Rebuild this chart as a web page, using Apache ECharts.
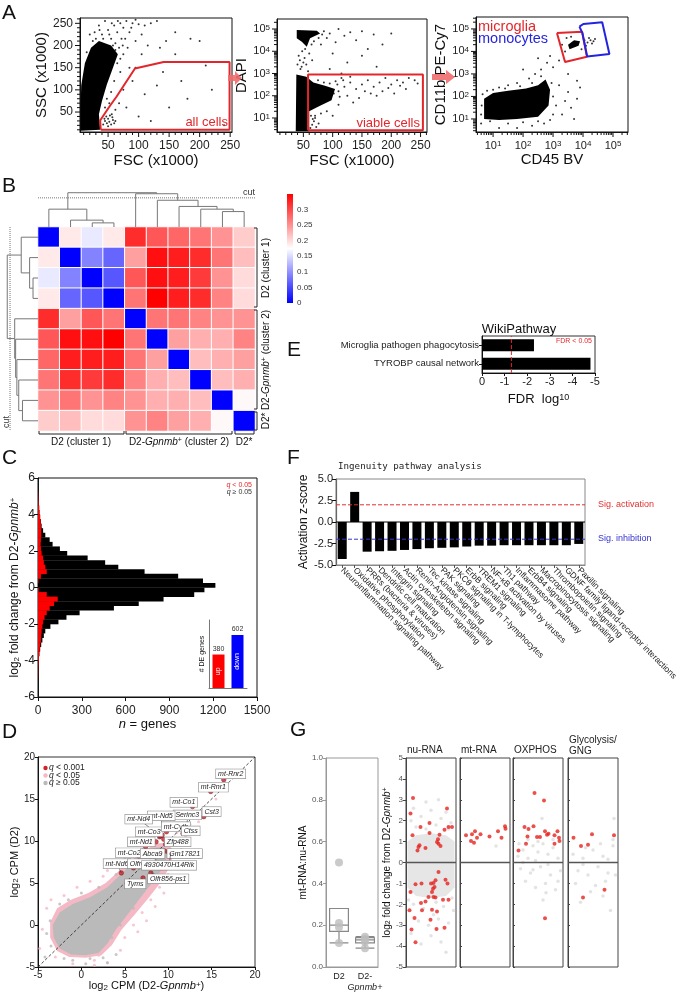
<!DOCTYPE html>
<html>
<head>
<meta charset="utf-8">
<script src="https://cdn.jsdelivr.net/npm/echarts@6.0.0/dist/echarts.min.js"></script>
<style>html,body{margin:0;padding:0;background:#fff}#fig{width:680px;height:993px}</style>
</head>
<body>
<div id="fig"></div>
<script>
// ---------- A : gating (x, y ; log panels use log10 units) ----------
var a1Dense = [[5,8],[37,10],[35,45],[40,75],[48,112],[58,150],[66,180],[55,200],[35,210],[22,195],[12,160],[6,110],[5,60]];
var a1Pts = [[30,215],[40,225],[50,235],[60,245],[70,250],[80,255],[45,255],[35,245],[55,215],[65,230],[75,240],[85,230],[90,250],[95,258],[62,205],[72,215],[28,230],[38,200],[48,190],[58,200],[68,195],[78,215],[100,248],[110,245],[120,250],[105,225],[130,255],[95,210],[82,195],[75,180],[65,160],[70,140],[60,120],[55,95],[48,80],[45,60],[52,70],
  [42,22],[45,30],[48,25],[50,35],[52,28],[55,22],[58,32],[60,25],[47,40],[53,42],[57,38],[44,35],[62,30],[50,18],[56,45],
  [90,120],[110,90],[80,60],[100,40],[140,140],[160,180],[170,120],[200,210],[210,155],[180,80],[120,30],[95,150],[130,110],[150,60],[220,100],[240,20],[75,100],[85,150],[105,180],[115,200],[135,195],[145,210],[185,215],[160,230],[68,70],[62,55],
  [20,225],[25,210],[15,185],[42,215],[52,225],[62,190],[70,170],[74,200],[88,240],[66,255],[56,250],[36,235]];
var a1Gate = [[38,10],[37,31],[52,62],[64,85],[94,148],[141,163],[249,163],[249,10],[38,10]];

var a2Dense = [[37,0.4],[60,0.4],[60,1.3],[75,1.5],[98,1.8],[104,2.3],[87,2.45],[67,2.6],[55,2.85],[38,2.95]];
var a2Top = [[38.7,4.96],[72.9,4.92],[78.5,4.8],[61.4,4.58],[55.8,4.2],[47.3,4.43],[38.7,4.58]];
var a2Pts = [[45,3.2],[50,3.5],[42,3.8],[55,3.4],[48,4.0],[52,3.7],[58,3.1],[44,3.6],[60,3.9],[47,3.3],[53,4.1],[65,3.6],[40,3.4],
  [85,4.9],[95,4.8],[110,5.0],[120,4.7],[130,4.85],[150,4.9],[170,4.75],[90,4.6],[105,4.4],[140,4.5],[200,4.8],[185,4.3],[160,4.1],[80,4.3],[100,3.9],[125,3.5],[150,3.8],[175,3.3],[95,3.2],[115,3.0],
  [110,2.2],[120,2.4],[130,2.6],[140,2.3],[150,2.5],[160,2.7],[170,2.4],[180,2.6],[190,2.8],[200,2.5],[210,2.7],[220,2.6],[230,2.8],[240,2.7],[125,2.0],[145,1.9],[165,2.1],[185,2.2],[205,2.1],[225,2.3],[110,1.6],[135,1.7],[90,1.3],[100,1.1],[115,2.8],[105,2.65],[130,2.85],[155,2.2],[175,2.0],[195,2.35],[215,2.45],[80,1.2],[85,2.6],[70,1.1],[75,2.7],[245,2.55],
  [62,0.55],[65,0.7],[68,0.85],[72,0.6],[70,1.0],[76,0.75],[63,1.1],[66,0.95],
  [108,2.5],[112,1.95],[118,2.7],[102,2.1],[95,2.55],[82,4.75],[76,4.6],[68,4.45],[64,4.3]];
var a2Gate = [[58,0.45],[58,2.95],[254,2.95],[254,0.45],[58,0.45]];

var a3Dense = [[0.7,1.0],[1.2,0.95],[1.8,1.0],[2.5,1.1],[2.85,1.6],[2.9,2.3],[2.75,2.75],[2.5,2.5],[2.1,2.35],[1.5,2.25],[1.0,2.15],[0.7,1.9]];
var a3Micro = [[3.55,4.1],[3.85,4.25],[3.9,4.45],[3.7,4.5],[3.5,4.3]];
var a3Pts = [[4.15,4.4],[4.25,4.5],[4.3,4.35],[4.2,4.6],[4.35,4.45],[4.1,4.25],[4.4,4.55],[4.05,4.5],
  [3.4,4.0],[3.45,4.6],[3.6,4.65],[3.95,4.1],[3.3,4.3],
  [3.0,2.0],[3.2,2.5],[3.1,1.6],[3.4,1.8],[3.6,1.5],[3.5,2.2],[3.8,1.9],[3.3,1.2],[3.7,1.0],[3.0,3.3],[2.8,3.5],[2.6,3.2],[2.4,3.0],[2.2,2.8],[2.0,3.2],[1.8,2.6],[1.5,2.5],[1.2,2.4],[2.5,3.7],[2.9,3.8],[3.2,3.6],[3.5,3.0],[3.8,2.7],[1.0,2.3],[0.9,0.9],[1.5,0.8],[2.0,0.85],[2.5,0.9],[1.2,0.6],[1.8,0.6],[2.3,0.7],[0.6,0.8],[3.9,2.4],[2.7,0.8],
  [0.65,2.1],[0.8,2.25],[1.4,2.35],[1.9,2.45],[2.3,2.6],[2.6,2.9],[2.95,2.6],[3.0,1.2],[2.9,0.95],[0.6,1.2],[0.62,1.6]];
var a3GateMicroglia = [[3.13,4.82],[3.97,4.87],[4.13,3.76],[3.4,3.53],[3.13,4.82]];
var a3GateMonocytes = [[3.88,5.1],[4.01,5.22],[4.64,5.3],[4.88,3.89],[4.14,3.77],[3.98,4.81],[3.88,5.1]];

// ---------- B : distance heatmap ----------
var heatMatrix = [
  [0,0.19,0.16,0.19,0.32,0.29,0.28,0.27,0.25,0.21],
  [0.19,0,0.09,0.07,0.24,0.34,0.33,0.32,0.27,0.22],
  [0.16,0.09,0,0.06,0.29,0.34,0.33,0.31,0.25,0.20],
  [0.19,0.07,0.06,0,0.27,0.35,0.33,0.32,0.26,0.20],
  [0.32,0.24,0.29,0.27,0,0.27,0.27,0.26,0.25,0.25],
  [0.29,0.34,0.34,0.35,0.27,0,0.24,0.23,0.23,0.26],
  [0.28,0.33,0.33,0.33,0.27,0.24,0,0.22,0.23,0.24],
  [0.27,0.32,0.31,0.32,0.26,0.23,0.22,0,0.22,0.23],
  [0.25,0.27,0.25,0.26,0.25,0.23,0.23,0.22,0,0.18],
  [0.21,0.22,0.20,0.20,0.25,0.26,0.24,0.23,0.18,0]];
var colorTicks = [0,0.05,0.1,0.15,0.2,0.25,0.3];
// merges: [child, child, height]; 'mK' = K-th merge
var dendroTop = [[2,3,0.12],[1,'m0',0.2],[0,'m1',0.52],[8,9,0.45],[7,'m3',0.52],[6,'m4',0.6],[5,'m5',0.78],[4,'m6',0.97],['m2','m7',1.0]];
var dendroLeft = [[2,3,0.16],[1,'m0',0.27],[0,'m1',0.54],[8,9,0.5],[7,'m3',0.62],[6,'m4',0.68],[5,'m5',0.72],[4,'m6',0.75],['m2','m7',0.99]];

// ---------- E : WikiPathway ----------
var wikiNames = ['Microglia pathogen phagocytosis','TYROBP causal network'];
var wikiFdr = [-2.3,-4.8];

// ---------- C : fold-change histogram ----------
var histBinLow = [-5.0,-4.75,-4.5,-4.25,-4.0,-3.75,-3.5,-3.25,-3.0,-2.75,-2.5,-2.25,-2.0,-1.75,-1.5,-1.25,-1.0,-0.75,-0.5,-0.25,0,0.25,0.5,0.75,1.0,1.25,1.5,1.75,2.0,2.25,2.5,2.75,3.0,3.25,3.5,3.75,4.0,4.25,4.5,4.75,5.0];
var histAll = [1,2,2,4,6,10,15,22,30,40,50,85,140,195,285,520,690,860,1070,1140,1215,1130,960,730,550,460,340,200,150,100,80,50,35,25,20,15,10,8,5,3,2];
var histSig = [1,2,2,4,6,8,12,15,20,22,25,30,35,45,60,80,110,135,60,5,0,3,20,60,50,40,35,25,20,18,20,22,22,20,18,14,10,8,5,3,2];
var deNames = ['up','down'];
var deCounts = [380,602];

// ---------- F : IPA ----------
var ipaNames = ['Neuroinflammation signaling pathway','Oxidative phosphorylation','PRRs (bacteria & viruses)','Dendritic cell maturation','Integrin signaling','Actin cytoskeleton signaling','Renin-Angiotensin signaling','Tec kinase signaling','PAK signaling','PKC\u03b8 signaling in T-lymphocytes','ErbB signaling','TREM1 signaling','NF-\u03baB activation by viruses','Th1 pathway','Inflammasome pathway','ErbB4 signaling','Macropinocytosis signaling','Thrombopoietin signaling','GDNF family ligand-receptor interactions','Paxillin signaling'];
var ipaZ = [-4.3,3.5,-3.45,-3.4,-3.35,-3.25,-3.15,-3.05,-3.0,-2.95,-2.85,-2.75,-2.75,-2.7,-2.7,-2.7,-2.7,-2.7,-2.7,-2.55];

// ---------- D : CPM scatter ----------
var dGrayCloud = [[-3.2,-1.5],[-2.5,-2.8],[-1.2,-3.5],[0.5,-3.6],[2,-3.3],[3,-2.2],[4,-0.5],[5.5,1.5],[7,3.5],[8.5,5.5],[9.5,7],[10,8.5],[9.5,9.3],[8.5,9.2],[7,8.3],[5,6.5],[3,4.5],[1,3.3],[-1,2.5],[-2.5,1.5],[-3.3,0]];
var dPinkCloud = [[-3.6,-1.5],[-2.8,-3.1],[-1.4,-3.8],[0.5,-3.9],[2.3,-3.6],[3.5,-2.4],[4.6,-0.6],[6.2,1.3],[7.8,3.3],[9.3,5.3],[10.3,7.2],[10.6,8.8],[9.9,9.8],[8.6,9.7],[7,8.7],[4.8,6.9],[2.8,5],[0.8,3.8],[-1.2,3],[-2.8,2],[-3.6,0.3]];
var dGrayPts = [[-4,-1],[-3.6,0.5],[-3.5,-2.5],[-2,-4],[-1,-4.2],[1,-4],[2.5,-3.9],[3,-4.5],[4,-3.5],[3.5,-1.5],[4.5,0],[6,2],[7,4],[8.5,6.5],[9.5,8],[-2.5,2.5],[-1.5,3],[0,3.8],[2,4.5],[4,6],[5.5,7],[7,8.8],[0.5,-4.6],[-4.2,-3.8]];
var dPinkPts = [[-4.5,-0.5],[-4,2],[-3.5,3],[-2,3.5],[-0.5,4.5],[1,5.2],[3,6.5],[5,8],[6.5,9],[8,10.2],[9,10.5],[4.5,-3],[5,-1.5],[6,0],[7,1.5],[8,3],[9,4.5],[10,6],[11,7.5],[11.5,9],[3,-4.5],[1.5,-4.8],[-1,-4.6],[2,-3.6],[10.5,5.5],[9.5,3.8],[8.5,2.2],[12,10.5],[11,11],[7.5,0.5],[6.5,-0.8],[10,8.5],[9,9.5],[4.2,7.5],[2.5,5.8],[-3,-3.8],[-4.8,-2.8],[1.5,-4.2],[12.5,12],[13.5,12.3],[11.5,11.8],[13,13.5],[14,13.5],[15.5,15],[16,16.5]];
var dRedPts = [[4.6,6.2],[6.6,8.2],[7.4,9.3],[7.8,7.4],[8.0,6.2],[7.1,5.6],[8.6,9.9],[9.0,10.5],[9.1,10.6],[9.3,10.7],[9.8,11.1],[9.7,9.6],[9.6,8.8],[10.0,8.7],[10.3,8.6],[11.7,10.9],[12.2,11.9],[12.8,14.1],[14.1,12.9],[14.9,15.9],[16.4,17.3],[8.5,7.5],[9.5,10.2],[6,6.8]];
var dLabelNames = ['mt-Rnr2','mt-Rnr1','mt-Co1','Cst3','Serinc3','mt-Nd5','mt-Nd4','mt-Co3','mt-Cytb','Ctss','mt-Nd1','Zfp488','mt-Co2','Abca9','Gm17821','mt-Nd6','Olfr613','4930470H14Rik','Olfr856-ps1','Tyms'];
var dLabelPoint = [[16.4,17.3],[14.9,15.9],[12.8,14.1],[14.1,12.9],[12.2,11.9],[9.3,10.7],[9.1,10.6],[9.0,10.5],[9.8,11.1],[11.7,10.9],[8.6,9.9],[9.7,9.6],[6.6,8.2],[9.6,8.8],[10.0,8.7],[4.6,6.2],[7.8,7.4],[10.3,8.6],[8.0,6.2],[7.1,5.6]];
var dLabelAt = [[17.2,18.0],[15.2,16.4],[11.8,14.6],[15.0,13.5],[12.2,13.1],[9.2,13.0],[6.6,12.6],[7.8,11.1],[10.9,11.7],[12.6,11.2],[6.9,9.9],[11.1,9.9],[5.5,8.6],[8.2,8.5],[11.9,8.5],[4.1,7.3],[6.9,7.3],[10.1,7.1],[10.0,5.5],[6.2,4.9]];

// ---------- G : mt-RNA ratio and facets ----------
var gGroups = ['D2','D2-Gpnmb+'];
var gBox = [[0.115,0.17,0.2,0.28,0.28],[0.09,0.115,0.13,0.14,0.145]];
var gRatioPts = [[0,0.5],[0,0.21],[0,0.19],[0,0.115],[1,0.145],[1,0.135],[1,0.12],[1,0.09]];
var facetNames = ['nu-RNA','mt-RNA','OXPHOS','Glycolysis/\nGNG'];
var nuCore = [[0.03,-1.2],[0.2,-1.6],[0.5,-1.7],[0.8,-1.6],[0.97,-1.2],[0.97,1.0],[0.8,1.3],[0.5,1.4],[0.2,1.3],[0.03,1.0]];
var nuGray = [[0.1,2.0],[0.3,2.2],[0.5,2.5],[0.7,2.1],[0.9,1.9],[0.2,1.7],[0.6,1.8],[0.4,1.6],[0.85,1.6],[0.15,-2.0],[0.35,-2.2],[0.55,-2.5],[0.75,-2.1],[0.95,-2.3],[0.25,-2.8],[0.45,-3.0],[0.65,-2.7],[0.85,-2.9],[0.1,-3.4],[0.5,-3.5],[0.7,-3.8],[0.8,-4.3],[0.3,-3.9],[0.6,-1.9],[0.05,-1.8],[0.92,-1.7],[0.4,2.9],[0.15,2.6],[0.8,2.4],[0.65,3.0]];
var nuRed = [[.09,2.34],[.14,3.09],[.13,1.30],[.29,1.70],[.47,1.89],[.47,1.41],[.39,.69],[.23,.58],[.27,.82],[.25,.74],[.82,2.58],[.77,1.57],[.85,1.70],[.92,1.70],[.67,1.33],[.64,1.11],[.62,.98],[.65,.9],[.69,.79],[.19,-1.04],[.31,-1.01],[.09,-1.41],[.5,-1.01],[.55,-.98],[.59,-.85],[.54,-1.25],[.57,-1.17],[.52,-1.41],[.65,-.45],[.79,-.82],[.83,-1.01],[.45,-1.65],[.55,-1.65],[.59,-1.68],[.74,-1.78],[.85,-1.78],[.3,-1.94],[.39,-1.87],[.07,-2.29],[.32,-2.29],[.52,-2.26],[.62,-2.34],[.17,-2.66],[.49,-2.74],[.11,-3.2],[.61,-3.18],[.77,-3.12],[.19,-3.82]];
var mtGray = [[0.72,0.79]];
var mtRed = [[.12,1.3],[.24,1.35],[.3,1.5],[.41,1.35],[.22,1.03],[.28,.95],[.34,1.19],[.59,1.25],[.76,1.49],[.83,1.19],[.9,1.73],[.91,1.62]];
var oxGray = [[0.1,0.3],[0.2,0.6],[0.3,0.2],[0.4,0.8],[0.5,0.5],[0.6,0.9],[0.7,0.4],[0.8,0.7],[0.9,0.2],[0.15,-0.3],[0.35,-0.5],[0.55,-0.2],[0.75,-0.6],[0.95,-0.4],[0.25,-0.9],[0.45,-1.2],[0.65,-1.0],[0.85,-1.3],[0.6,-1.8],[0.7,-0.1],[0.5,1.0],[0.3,1.1],[0.8,1.1],[0.45,0.1],[0.2,0.0],[0.9,-0.9],[0.66,-1.45],[0.4,-0.35],[0.12,0.9],[0.58,2.1]];
var oxRed = [[.11,.58],[.23,1.7],[.31,1.6],[.41,1.73],[.43,3.33],[.29,1.25],[.26,.9],[.48,1.22],[.54,1.22],[.62,2.97],[.64,1.49],[.68,1.33],[.71,1.38],[.83,1.3],[.83,.9],[.89,1.49],[.92,1.19],[.93,1.03],[.64,-2.67]];
var glyGray = [[0.1,0.4],[0.3,0.2],[0.5,0.6],[0.7,0.3],[0.9,0.8],[0.2,-0.4],[0.4,-0.6],[0.6,-0.2],[0.8,-0.5],[0.15,-1.0],[0.45,-1.4],[0.75,-0.9],[0.95,-0.6],[0.85,-2.3],[0.25,-1.9],[0.65,0.9],[0.55,-1.1],[0.35,0.7],[0.9,1.1],[0.7,-1.6],[0.92,2.1],[0.3,-0.1],[0.8,0.15]];
var glyRed = [[.11,1.19],[.26,.79],[.4,.85],[.48,1.35],[.92,1.3],[.3,-1.67],[.73,-1.3]];

// ================= build =================
var FONT = '"Liberation Sans", Arial, sans-serif';
var RED = '#e3262b', BLUE = '#2424e0';
var grids = [], xAxes = [], yAxes = [], series = [], graphics = [];
function push(arr, o) { arr.push(o); return arr.length - 1; }
function merge(a, b) {
  for (var k in b) {
    if (b[k] && typeof b[k] === 'object' && !Array.isArray(b[k]) && a[k] && typeof a[k] === 'object') merge(a[k], b[k]);
    else a[k] = b[k];
  }
  return a;
}
function rich(fs) {
  var s = Math.round(fs * 0.7);
  return {i: {fontStyle: 'italic', fontSize: fs, fontFamily: FONT},
    sup: {fontSize: s, verticalAlign: 'top', fontFamily: FONT},
    sub: {fontSize: s, verticalAlign: 'bottom', fontFamily: FONT}};
}
function axis(gi, o) {
  return merge({gridIndex: gi, type: 'value', splitLine: {show: false},
    axisLine: {show: true, onZero: false, lineStyle: {color: '#111', width: 1}},
    axisTick: {show: true, length: 4, lineStyle: {color: '#111'}},
    axisLabel: {color: '#222', fontSize: 11, fontFamily: FONT},
    nameTextStyle: {color: '#111', fontFamily: FONT}}, o);
}
function hidden(gi, min, max) { return {gridIndex: gi, type: 'value', min: min, max: max, show: false}; }
function linMinor(from, to, step, skip) {
  var v = [];
  for (var t = from; t <= to; t += step) if (t % skip !== 0) v.push(t);
  return v;
}
function logMinor(min, max) {
  var v = [];
  for (var n = -1; n < 7; n++) for (var k = 2; k <= 9; k++) {
    var t = n + Math.log10(k);
    if (t > min && t < max) v.push(t);
  }
  return v;
}
function pow10(v) { return '10{sup|' + Math.round(v) + '}'; }
// outward tick marks drawn at axis values (x axis: below base y, y axis: left of base x)
function ticks(xi, yi, vals, isX, base, len) {
  return {type: 'custom', xAxisIndex: xi, yAxisIndex: yi, silent: true, z: 10, clip: false,
    data: vals.map(function (v) { return [v]; }),
    renderItem: function (p, api) {
      var v = api.value(0), c = isX ? api.coord([v, base]) : api.coord([base, v]);
      return {type: 'line', shape: isX ? {x1: c[0], y1: c[1], x2: c[0], y2: c[1] + len} : {x1: c[0], y1: c[1], x2: c[0] - len, y2: c[1]},
        style: {stroke: '#111', lineWidth: 1}};
    }};
}
function poly(xi, yi, pts, fill, stroke, lw, z) {
  return {type: 'custom', xAxisIndex: xi, yAxisIndex: yi, data: [[0]], silent: true, z: z || 2,
    renderItem: function (p, api) {
      return {type: 'polygon', shape: {points: pts.map(function (q) { return api.coord(q); })},
        style: {fill: fill, stroke: stroke || null, lineWidth: lw || 0}};
    }};
}
function dots(xi, yi, pts, color, size, z) {
  return {type: 'scatter', xAxisIndex: xi, yAxisIndex: yi, data: pts, symbolSize: size,
    itemStyle: {color: color}, silent: true, z: z || 3};
}
function path(xi, yi, pts, color, width, type, z) {
  return {type: 'line', xAxisIndex: xi, yAxisIndex: yi, data: pts, symbol: 'none', silent: true, z: z || 4,
    lineStyle: {color: color, width: width, type: type || 'solid'}};
}
function txt(x, y, text, st, rot) {
  var s = merge({text: text, fontSize: 11, fontFamily: FONT, fill: '#111', align: 'left', verticalAlign: 'top'}, st || {});
  s.textAlign = s.align; s.textVerticalAlign = s.verticalAlign;
  graphics.push({type: 'text', x: x, y: y, rotation: rot || 0, silent: true, z: 100, style: s});
}
function pline(points, color, width) {
  graphics.push({type: 'polyline', silent: true, z: 100, shape: {points: points},
    style: {stroke: color || '#222', lineWidth: width || 1, fill: null}});
}
function gridBox(o, color) {
  return push(grids, merge({show: true, borderColor: color || '#111', borderWidth: 1, backgroundColor: 'transparent'}, o));
}
function gatePanel(box, xr, yr, xMaj, xMin, yMaj, yMin, xFmt, yFmt, xName, yName, yGap) {
  var gi = gridBox(box);
  var xl = {fontSize: 12, customValues: xMaj};
  if (xFmt) { xl.formatter = xFmt; xl.rich = rich(11); xl.fontSize = 11; }
  var yl = {fontSize: 12, customValues: yMaj, margin: 7};
  if (yFmt) { yl.formatter = yFmt; yl.rich = rich(11); yl.fontSize = 11; }
  var xi = push(xAxes, axis(gi, {min: xr[0], max: xr[1], position: 'bottom', axisTick: {show: false}, axisLabel: xl,
    name: xName, nameLocation: 'middle', nameGap: 17, nameTextStyle: {fontSize: 15}}));
  var yi = push(yAxes, axis(gi, {min: yr[0], max: yr[1], position: 'left', axisTick: {show: false}, axisLabel: yl,
    name: yName, nameLocation: 'middle', nameGap: yGap, nameTextStyle: {fontSize: 15}}));
  series.push(ticks(xi, yi, xMaj, true, yr[0], 5));
  series.push(ticks(xi, yi, xMin, true, yr[0], 3));
  series.push(ticks(xi, yi, yMaj, false, xr[0], 5));
  series.push(ticks(xi, yi, yMin, false, xr[0], 3));
  return [xi, yi];
}

// ----- A1 -----
var majA = [50,100,150,200,250], logMaj = [1,2,3,4,5];
var ax = gatePanel({left: 80, top: 18, width: 152, height: 114}, [4, 253], [5, 262], majA, linMinor(10, 250, 10, 50),
  majA, linMinor(10, 260, 10, 50), null, null, 'FSC (x1000)', 'SSC (x1000)', 29);
series.push(poly(ax[0], ax[1], a1Dense, '#000'));
series.push(dots(ax[0], ax[1], a1Pts, '#000', 2));
series.push(path(ax[0], ax[1], a1Gate, RED, 2));
txt(228, 116, 'all cells', {fontSize: 13, fill: RED, align: 'right'});

// ----- A2 -----
ax = gatePanel({left: 277, top: 19, width: 150, height: 113}, [5, 261], [0.37, 5.45], majA, linMinor(10, 260, 10, 50),
  logMaj, logMinor(0.37, 5.45), null, pow10, 'FSC (x1000)', 'DAPI', 22);
series.push(poly(ax[0], ax[1], a2Dense, '#000'));
series.push(poly(ax[0], ax[1], a2Top, '#000'));
series.push(dots(ax[0], ax[1], a2Pts, '#000', 2));
series.push(path(ax[0], ax[1], a2Gate, RED, 2));
txt(420, 117, 'viable cells', {fontSize: 13, fill: RED, align: 'right'});

// ----- A3 -----
ax = gatePanel({left: 476, top: 17, width: 152, height: 115}, [0.43, 5.5], [0.42, 5.53], logMaj, logMinor(0.43, 5.5),
  logMaj, logMinor(0.42, 5.53), pow10, pow10, 'CD45 BV', 'CD11b PE-Cy7', 24);
series.push(poly(ax[0], ax[1], a3Dense, '#000'));
series.push(poly(ax[0], ax[1], a3Micro, '#000'));
series.push(dots(ax[0], ax[1], a3Pts, '#000', 2));
series.push(path(ax[0], ax[1], a3GateMicroglia, RED, 2));
series.push(path(ax[0], ax[1], a3GateMonocytes, BLUE, 2));
txt(478, 19, 'microglia', {fontSize: 14.5, fill: RED});
txt(478, 31, 'monocytes', {fontSize: 14.5, fill: BLUE});

// arrows between gates
graphics.push({type: 'polygon', silent: true, z: 101, shape: {points: [[228,75],[235,75],[235,71],[242,78],[235,85],[235,81],[228,81]]}, style: {fill: '#ef6b6b', opacity: 0.9}});
graphics.push({type: 'polygon', silent: true, z: 101, shape: {points: [[432,74],[446,74],[446,70],[455,77],[446,84],[446,80],[432,80]]}, style: {fill: '#ef6b6b', opacity: 0.9}});

// ----- B heatmap -----
var idx10 = ['0','1','2','3','4','5','6','7','8','9'];
var g = push(grids, {left: 38, top: 227, width: 217, height: 204});
var x = push(xAxes, {gridIndex: g, type: 'category', data: idx10, show: false});
var y = push(yAxes, {gridIndex: g, type: 'category', data: idx10, show: false, inverse: true});
var heatData = [];
heatMatrix.forEach(function (row, r) { row.forEach(function (v, c) { heatData.push([c, r, v]); }); });
var heatIndex = push(series, {type: 'heatmap', xAxisIndex: x, yAxisIndex: y, data: heatData, silent: true,
  itemStyle: {borderColor: '#fff', borderWidth: 1}});

// colour bar
g = push(grids, {left: 287, top: 194, width: 6, height: 109});
x = push(xAxes, hidden(g, 0, 1));
y = push(yAxes, axis(g, {min: 0, max: 0.35, position: 'right', axisLine: {show: false}, axisTick: {show: false},
  axisLabel: {fontSize: 8, color: '#333', margin: 4, customValues: colorTicks}}));
series.push({type: 'custom', xAxisIndex: x, yAxisIndex: y, data: [[0]], silent: true,
  renderItem: function (p, api) {
    var a = api.coord([0, 0]), b = api.coord([1, 0.35]);
    return {type: 'rect', shape: {x: a[0], y: b[1], width: b[0] - a[0], height: a[1] - b[1]},
      style: {fill: {type: 'linear', x: 0, y: 0, x2: 0, y2: 1, colorStops: [{offset: 0, color: '#ff0000'}, {offset: 0.5, color: '#ffffff'}, {offset: 1, color: '#0000ff'}]}}};
  }});

// dendrograms
function dendro(merges) {
  var nodes = {}, segs = [];
  function get(k) { return typeof k === 'number' ? {p: k, h: 0} : nodes[k]; }
  merges.forEach(function (m, i) {
    var a = get(m[0]), b = get(m[1]);
    segs.push([[a.p, a.h], [a.p, m[2]], [b.p, m[2]], [b.p, b.h]]);
    nodes['m' + i] = {p: (a.p + b.p) / 2, h: m[2]};
  });
  return segs;
}
g = push(grids, {left: 38, top: 191, width: 217, height: 36});
x = push(xAxes, hidden(g, -0.5, 9.5));
y = push(yAxes, hidden(g, 0, 1.05));
series.push({type: 'lines', coordinateSystem: 'cartesian2d', xAxisIndex: x, yAxisIndex: y, polyline: true, silent: true,
  data: dendro(dendroTop).map(function (s) { return {coords: s}; }), lineStyle: {color: '#777', width: 1, opacity: 1}});
series.push(path(x, y, [[-0.5, 0.85], [9.5, 0.85]], '#777', 1, 'dotted'));
txt(255, 188, 'cut', {fontSize: 9, fill: '#333', align: 'right'});

g = push(grids, {left: 6, top: 227, width: 32, height: 204});
x = push(xAxes, merge(hidden(g, 0, 1.03), {inverse: true}));
y = push(yAxes, merge(hidden(g, -0.5, 9.5), {inverse: true}));
series.push({type: 'lines', coordinateSystem: 'cartesian2d', xAxisIndex: x, yAxisIndex: y, polyline: true, silent: true,
  data: dendro(dendroLeft).map(function (s) { return {coords: s.map(function (c) { return [c[1], c[0]]; })}; }),
  lineStyle: {color: '#777', width: 1, opacity: 1}});
series.push(path(x, y, [[0.9, -0.5], [0.9, 9.5]], '#777', 1, 'dotted'));
txt(7, 422, 'cut', {fontSize: 9, fill: '#333', align: 'center', verticalAlign: 'middle'}, Math.PI / 2);

// cluster brackets
pline([[254,228],[257,228],[257,307],[254,307]]);
pline([[254,310],[257,310],[257,409],[254,409]]);
pline([[254,412],[257,412],[257,430],[254,430]]);
pline([[39,431],[39,434],[124,434],[124,431]]);
pline([[126,431],[126,434],[232,434],[232,431]]);
pline([[235,431],[235,434],[254,434],[254,431]]);
var r10 = rich(10);
txt(266, 268, 'D2 (cluster 1)', {fontSize: 10, align: 'center', verticalAlign: 'middle'}, Math.PI / 2);
txt(266, 360, 'D2-{i|Gpnmb}{sup|+} (cluster 2)', {fontSize: 10, align: 'center', verticalAlign: 'middle', rich: r10}, Math.PI / 2);
txt(266, 421, 'D2*', {fontSize: 10, align: 'center', verticalAlign: 'middle'}, Math.PI / 2);
txt(81, 437, 'D2 (cluster 1)', {fontSize: 10, align: 'center'});
txt(179, 437, 'D2-{i|Gpnmb}{sup|+} (cluster 2)', {fontSize: 10, align: 'center', rich: r10});
txt(244, 437, 'D2*', {fontSize: 10, align: 'center'});

// ----- E -----
g = gridBox({left: 482, top: 336, width: 113, height: 37}, '#333');
x = push(xAxes, axis(g, {min: -5, max: 0, interval: 1, inverse: true, position: 'bottom', axisTick: {length: 3},
  axisLabel: {fontSize: 11, margin: 3}, name: 'FDR  log{sup|10}', nameLocation: 'middle', nameGap: 20,
  nameTextStyle: {fontSize: 13, rich: rich(13)}}));
y = push(yAxes, axis(g, {type: 'category', data: wikiNames, inverse: true, position: 'left', axisTick: {length: 3, alignWithLabel: true},
  axisLabel: {fontSize: 9.5, margin: 3}}));
var yh = push(yAxes, hidden(g, 0, 1));
series.push({type: 'bar', xAxisIndex: x, yAxisIndex: y, data: wikiFdr, barWidth: 12, silent: true, itemStyle: {color: '#000'}});
series.push(path(x, yh, [[-1.3, 0], [-1.3, 1]], RED, 1, 'dashed', 6));
txt(519, 323, 'WikiPathway', {fontSize: 13, align: 'center'});
txt(592, 338, 'FDR < 0.05', {fontSize: 7, fill: RED, align: 'right'});

// ----- C -----
g = gridBox({left: 38, top: 478, width: 219, height: 219});
x = push(xAxes, axis(g, {min: 0, max: 1500, interval: 300, position: 'bottom', axisLabel: {fontSize: 12, formatter: function (v) { return String(v); }},
  name: '{i|n} = genes', nameLocation: 'middle', nameGap: 14, nameTextStyle: {fontSize: 13, rich: rich(13)}}));
y = push(yAxes, axis(g, {min: -6, max: 6, interval: 2, position: 'left', axisLabel: {fontSize: 12, margin: 3},
  name: 'log{sub|2} fold change from D2-{i|Gpnmb}{sup|+}', nameLocation: 'middle', nameGap: 13, nameTextStyle: {fontSize: 12, rich: rich(12)}}));
function histSeries(counts, color) {
  return {type: 'custom', xAxisIndex: x, yAxisIndex: y, silent: true, clip: true,
    data: histBinLow.map(function (b, i) { return [b, counts[i]]; }),
    renderItem: function (p, api) {
      var lo = api.value(0), n = api.value(1);
      var a = api.coord([0, lo]), b = api.coord([n, lo + 0.25]);
      return {type: 'rect', shape: {x: a[0], y: b[1], width: b[0] - a[0], height: a[1] - b[1] + 0.3}, style: {fill: color}};
    }};
}
series.push(histSeries(histAll, '#000'));
series.push(histSeries(histSig, '#ff0000'));
var r7 = rich(7);
txt(252, 482, '{i|q} < 0.05', {fontSize: 7, fill: RED, align: 'right', rich: r7});
txt(252, 489, '{i|q} \u2265 0.05', {fontSize: 7, fill: '#333', align: 'right', rich: r7});

// inset
g = push(grids, {left: 209, top: 620, width: 38, height: 68});
x = push(xAxes, axis(g, {type: 'category', data: deNames, position: 'bottom', axisLine: {lineStyle: {color: '#777'}},
  axisTick: {show: false}, axisLabel: {show: false}}));
y = push(yAxes, axis(g, {min: 0, max: 772, position: 'left', axisLine: {lineStyle: {color: '#777'}}, axisTick: {show: false},
  axisLabel: {show: false}, name: '# DE genes', nameLocation: 'middle', nameGap: 3, nameTextStyle: {fontSize: 7}}));
series.push({type: 'bar', xAxisIndex: x, yAxisIndex: y, silent: true, barWidth: 12,
  data: deCounts.map(function (v, i) { return {value: v, itemStyle: {color: i ? '#0000ff' : '#ff0000'}}; }),
  label: {show: true, position: 'top', fontSize: 7, color: '#333', distance: 2}});
series.push({type: 'bar', xAxisIndex: x, yAxisIndex: y, silent: true, barWidth: 12, barGap: '-100%',
  data: deCounts, itemStyle: {color: 'transparent'},
  label: {show: true, position: 'inside', rotate: 90, fontSize: 7, color: '#fff', formatter: function (p) { return deNames[p.dataIndex]; }}});

// ----- F -----
g = gridBox({left: 336, top: 479, width: 258, height: 86}, '#888');
x = push(xAxes, axis(g, {type: 'category', data: ipaNames, position: 'bottom', axisLine: {lineStyle: {color: '#888'}},
  axisTick: {length: 3, alignWithLabel: true, lineStyle: {color: '#555'}},
  axisLabel: {rotate: -45, interval: 0, fontSize: 8.5, margin: 4, color: '#222'}}));
y = push(yAxes, axis(g, {min: -5, max: 5, interval: 2.5, position: 'left', axisLine: {lineStyle: {color: '#666', width: 1.2}},
  axisLabel: {fontSize: 11, margin: 3, formatter: function (v) { return v.toFixed(1); }},
  name: 'Activation z-score', nameLocation: 'middle', nameGap: 24, nameTextStyle: {fontSize: 12}}));
var xh = push(xAxes, hidden(g, 0, 1));
series.push({type: 'bar', xAxisIndex: x, yAxisIndex: y, data: ipaZ, barWidth: 9, silent: true, itemStyle: {color: '#000'}});
series.push(path(xh, y, [[0, 0], [1, 0]], '#000', 1.2, 'solid', 6));
series.push(path(xh, y, [[0, 2], [1, 2]], '#e03030', 1, 'dashed', 6));
series.push(path(xh, y, [[0, -2], [1, -2]], '#3434d0', 1, 'dashed', 6));
txt(598, 505, 'Sig. activation', {fontSize: 9, fill: '#e03030', verticalAlign: 'middle'});
txt(598, 539, 'Sig. inhibition', {fontSize: 9, fill: '#3434d0', verticalAlign: 'middle'});
txt(338, 462, 'Ingenuity pathway analysis', {fontSize: 9.2, fontFamily: '"DejaVu Sans Mono", monospace', fill: '#222'});

// ----- D -----
g = gridBox({left: 38, top: 757, width: 217, height: 210}, '#333');
x = push(xAxes, axis(g, {min: -5, max: 20, interval: 5, position: 'bottom', axisTick: {length: 3}, axisLabel: {fontSize: 10, margin: 3},
  name: 'log{sub|2} CPM (D2-{i|Gpnmb}{sup|+})', nameLocation: 'middle', nameGap: 11, nameTextStyle: {fontSize: 11, rich: rich(11)}}));
y = push(yAxes, axis(g, {min: -5, max: 20, interval: 5, position: 'left', axisTick: {length: 3}, axisLabel: {fontSize: 10, margin: 3},
  name: 'log{sub|2} CPM (D2)', nameLocation: 'middle', nameGap: 14, nameTextStyle: {fontSize: 11, rich: rich(11)}}));
series.push(poly(x, y, dPinkCloud, '#f5b9c6'));
series.push(poly(x, y, dGrayCloud, '#bababa', null, 0, 3));
series.push(dots(x, y, dPinkPts, '#f5b9c6', 3, 4));
series.push(dots(x, y, dGrayPts, '#bababa', 3, 4));
series.push(path(x, y, [[-5, -5], [20, 20]], '#222', 0.8, [3, 2], 5));
series.push({type: 'scatter', xAxisIndex: x, yAxisIndex: y, data: dRedPts, symbolSize: 4.5, silent: true, z: 6,
  itemStyle: {color: '#d2232a', borderColor: '#6a1a1a', borderWidth: 0.6}});
series.push({type: 'custom', xAxisIndex: x, yAxisIndex: y, silent: true, z: 7,
  data: dLabelNames.map(function (n, i) { return [i]; }),
  renderItem: function (p, api) {
    var i = p.dataIndex, pt = api.coord(dLabelPoint[i]), at = api.coord(dLabelAt[i]);
    return {type: 'group', children: [
      {type: 'line', shape: {x1: at[0], y1: at[1], x2: pt[0], y2: pt[1]}, style: {stroke: '#333', lineWidth: 0.6}},
      {type: 'text', x: at[0], y: at[1], style: {text: dLabelNames[i], fontSize: 7, fontStyle: 'italic', fontFamily: FONT, fill: '#222',
        align: 'center', verticalAlign: 'middle', backgroundColor: '#fff', borderColor: '#8a8a8a', borderWidth: 0.6, padding: [1, 2]}}]};
  }});
var r85 = rich(8.5);
[['#d2232a', '{i|q} < 0.001'], ['#f5b9c6', '{i|q} < 0.05'], ['#bababa', '{i|q} \u2265 0.05']].forEach(function (it, k) {
  graphics.push({type: 'circle', silent: true, z: 100, shape: {cx: 45.5, cy: 768 + k * 7.5, r: 2.2}, style: {fill: it[0]}});
  txt(49, 768 + k * 7.5, it[1], {fontSize: 8.5, fill: '#222', verticalAlign: 'middle', rich: r85});
});

// ----- G ratio box -----
g = gridBox({left: 326, top: 758, width: 52, height: 209}, '#999');
x = push(xAxes, axis(g, {type: 'category', data: gGroups, position: 'bottom', axisLine: {lineStyle: {color: '#999'}}, axisTick: {show: false},
  axisLabel: {interval: 0, fontSize: 9, margin: 5, color: '#222', lineHeight: 10, rich: rich(9),
    formatter: function (v, i) { return i ? 'D2-\n{i|Gpnmb+}' : 'D2'; }}}));
y = push(yAxes, axis(g, {min: 0, max: 1, interval: 0.2, position: 'left', axisLine: {lineStyle: {color: '#999'}},
  axisTick: {length: 3, lineStyle: {color: '#999'}}, axisLabel: {fontSize: 8, color: '#555', margin: 3, formatter: function (v) { return v.toFixed(1); }},
  name: 'mt-RNA:nu-RNA', nameLocation: 'middle', nameGap: 16, nameTextStyle: {fontSize: 10}}));
series.push({type: 'boxplot', xAxisIndex: x, yAxisIndex: y, data: gBox, silent: true, boxWidth: [16, 19],
  itemStyle: {color: '#fff', borderColor: '#888', borderWidth: 1.2}});
series.push(dots(x, y, gRatioPts, '#bdbdbd', 8, 6));

// ----- G facets -----
var facetLeft = [406, 460, 513, 568];
var facetGray = [nuGray, mtGray, oxGray, glyGray];
var facetRed = [nuRed, mtRed, oxRed, glyRed];
facetLeft.forEach(function (L, k) {
  var gi = gridBox({left: L, top: 758, width: 50, height: 209}, '#444');
  var xi = push(xAxes, hidden(gi, 0, 1));
  var yi = push(yAxes, axis(gi, {min: -5, max: 5, interval: 1, position: 'left', axisLine: {lineStyle: {color: '#444'}},
    axisTick: {length: k ? 2 : 3, inside: k > 0, lineStyle: {color: '#444'}},
    axisLabel: {show: k === 0, fontSize: 8, color: '#555', margin: 3},
    name: k ? '' : 'log{sub|2} fold change from D2-{i|Gpnmb}{sup|+}', nameLocation: 'middle', nameGap: 12,
    nameTextStyle: {fontSize: 10, rich: rich(10)}}));
  if (k === 0) series.push(poly(xi, yi, nuCore, '#e6e6e6'));
  series.push(dots(xi, yi, facetGray[k], '#dcdcdc', 3.5, 3));
  series.push(path(xi, yi, [[0, 0], [1, 0]], '#555', 1.5, 'solid', 4));
  series.push(dots(xi, yi, facetRed[k], '#e5231f', 4, 5));
  txt(L + 1, k === 3 ? 735 : 745, facetNames[k], {fontSize: 10, fill: '#222', lineHeight: 11});
});

// panel letters
[['A', 2, 3], ['B', 2, 176], ['C', 2, 448], ['D', 2, 722], ['E', 287, 340], ['F', 287, 448], ['G', 290, 720]].forEach(function (l) {
  txt(l[1], l[2], l[0], {fontSize: 21, fill: '#111'});
});

var chart = echarts.init(document.getElementById('fig'), null, {renderer: 'canvas'});
chart.setOption({
  animation: false,
  backgroundColor: '#fff',
  textStyle: {fontFamily: FONT},
  grid: grids, xAxis: xAxes, yAxis: yAxes, series: series,
  visualMap: [{type: 'continuous', show: false, min: 0, max: 0.35, seriesIndex: heatIndex, dimension: 2,
    inRange: {color: ['#0000ff', '#ffffff', '#ff0000']}}],
  graphic: {elements: graphics}
});
</script>
</body>
</html>
